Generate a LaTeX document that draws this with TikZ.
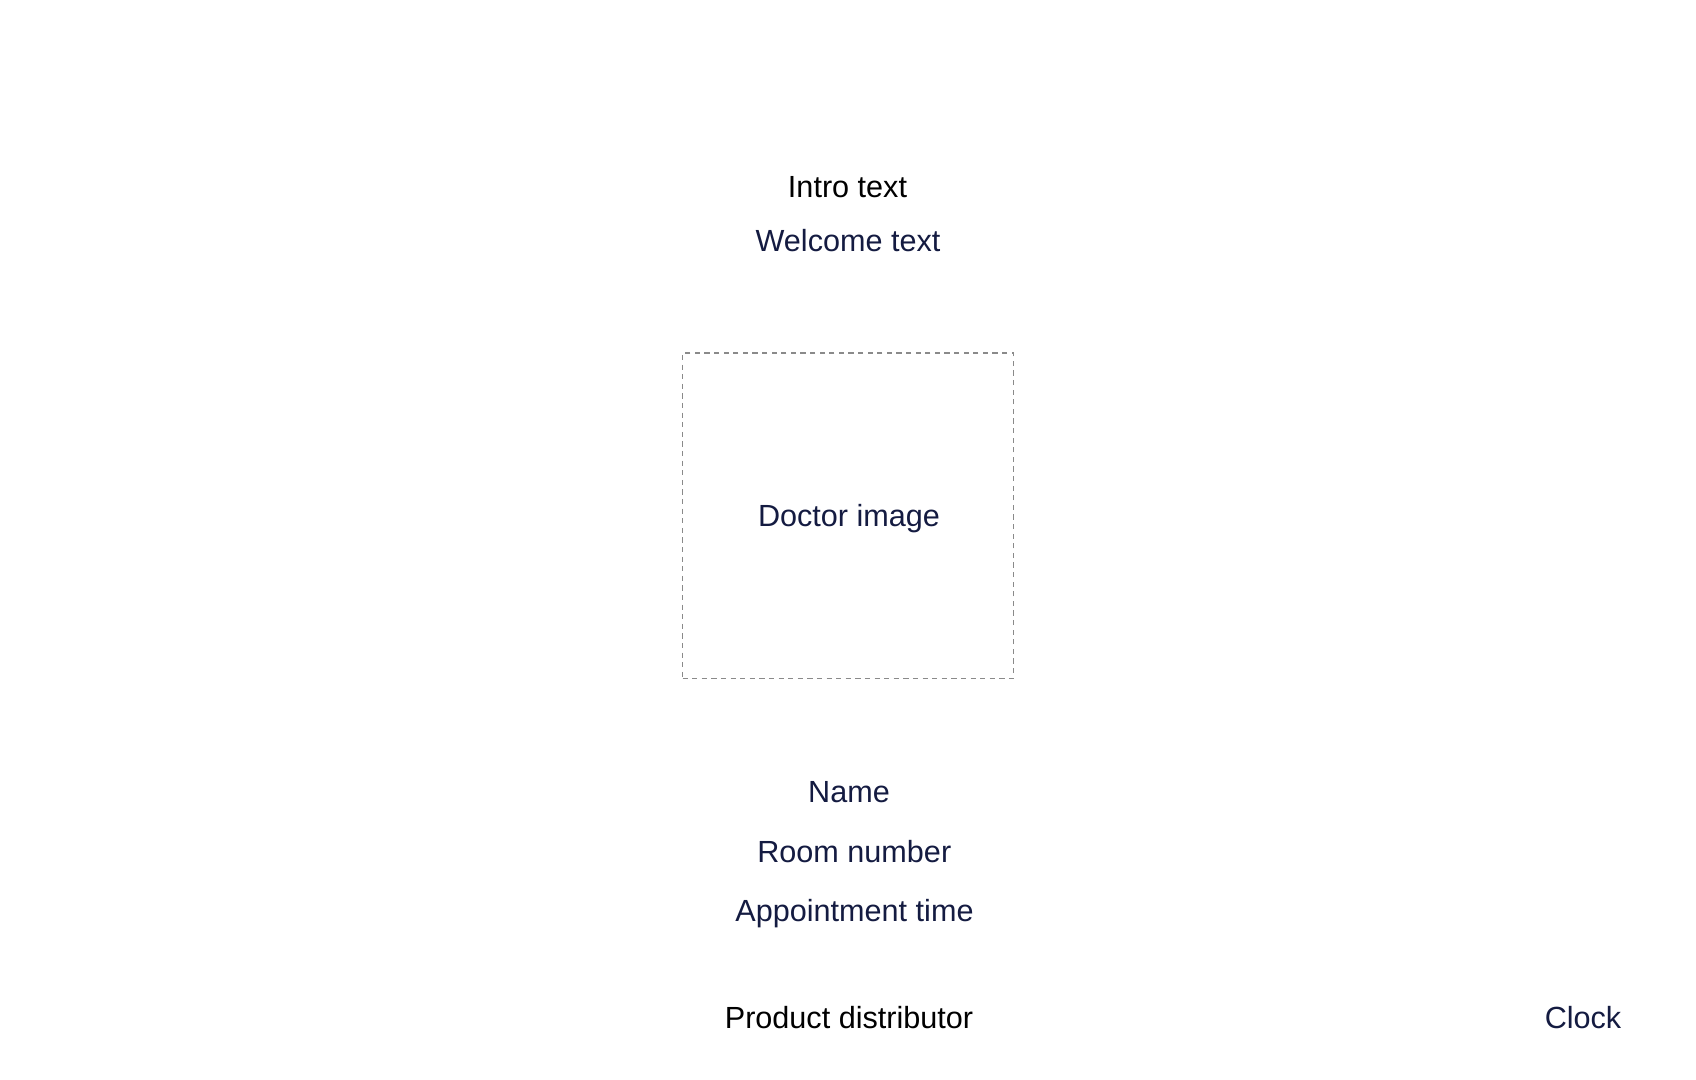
\documentclass[tikz,border=0pt]{standalone}
\usepackage{fontspec}
\setmainfont{Liberation Sans}
\usepackage{tikz}
\definecolor{navy}{HTML}{141B41}
\definecolor{boxgray}{HTML}{8A8A8A}

\begin{document}
\begin{tikzpicture}[x=0.5pt,y=-0.5pt,
    txt/.style={anchor=base,inner sep=0pt,font=\fontsize{15.3}{18}\selectfont},
    field/.style={txt,text=navy},
    imgbox/.style={draw=boxgray,line width=0.7pt,dash pattern=on 2.6pt off 2.2pt,
      minimum width=165.5pt,minimum height=162.5pt,inner sep=0pt}]
      \useasboundingbox (0,0) rectangle (1696,1080);
      % Nodes
      % header
      \node[txt] (intro) at (847.5,197.5) {Intro text};
      \node[field] (welcome) at (848,251.5) {Welcome text};
      % image placeholder
      \node[imgbox] (docimg) at (848,515.7) {};
      \node[field] (doclabel) at (849,526.5) {Doctor image};
      % doctor details
      \node[field] (name) at (849,802.3) {Name};
      \node[field] (room) at (854.3,862) {Room number};
      \node[field] (appt) at (854.5,921) {Appointment time};
      % footer
      \node[txt] (distrib) at (849,1028.5) {Product distributor};
      \node[field] (clock) at (1583,1028.5) {Clock};
    \end{tikzpicture}
\end{document}
